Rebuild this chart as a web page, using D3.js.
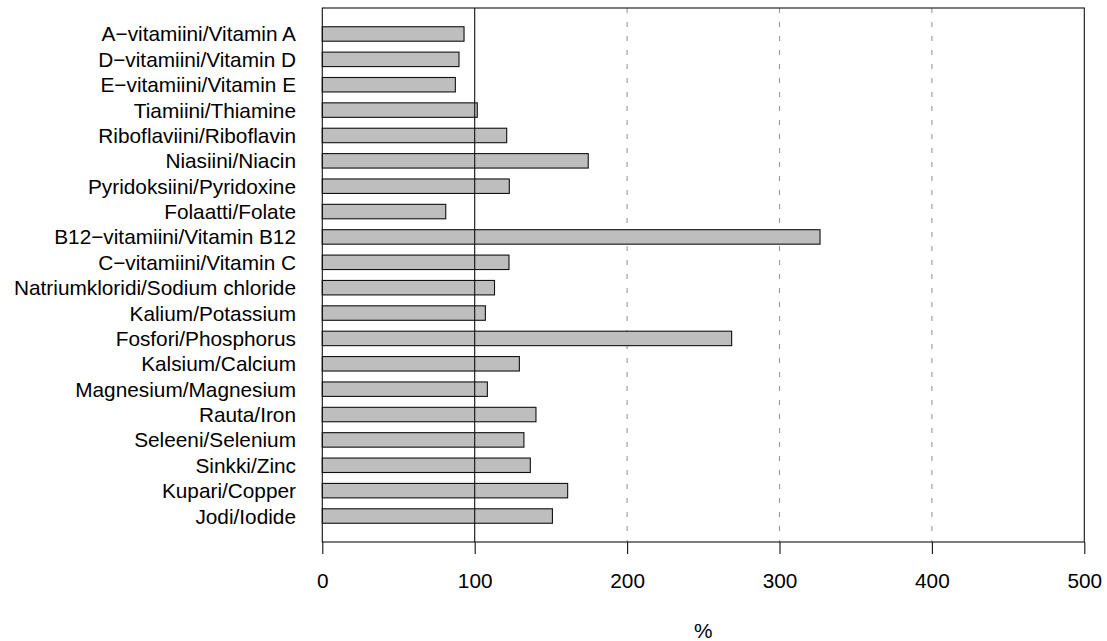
<!DOCTYPE html>
<html>
<head>
<meta charset="utf-8">
<script src="https://cdn.jsdelivr.net/npm/d3@7"></script>
<style>
html,body{margin:0;padding:0;background:#fff;}
svg{display:block;}
text{font-family:"Liberation Sans",Arial,Helvetica,sans-serif;fill:#000;}
</style>
</head>
<body>
<svg id="chart" width="1107" height="641"></svg>
<script>
const categories = [
  "A\u2212vitamiini/Vitamin A",
  "D\u2212vitamiini/Vitamin D",
  "E\u2212vitamiini/Vitamin E",
  "Tiamiini/Thiamine",
  "Riboflaviini/Riboflavin",
  "Niasiini/Niacin",
  "Pyridoksiini/Pyridoxine",
  "Folaatti/Folate",
  "B12\u2212vitamiini/Vitamin B12",
  "C\u2212vitamiini/Vitamin C",
  "Natriumkloridi/Sodium chloride",
  "Kalium/Potassium",
  "Fosfori/Phosphorus",
  "Kalsium/Calcium",
  "Magnesium/Magnesium",
  "Rauta/Iron",
  "Seleeni/Selenium",
  "Sinkki/Zinc",
  "Kupari/Copper",
  "Jodi/Iodide"
];
const values = [93, 89.7, 87.3, 101.7, 121, 174.5, 122.7, 81, 326.6, 122.5,
                113, 107, 268.6, 129.3, 108.3, 140.2, 132.3, 136.5, 161, 151];
const xTicks = [0, 100, 200, 300, 400, 500];
const dashedRefs = [200, 300, 400];
const solidRef = 100;
const xLabel = "%";

const svg = d3.select("#chart");
const L = 322.3, R = 1084.3, T = 8, B = 542;

const x = d3.scaleLinear().domain([0, 500]).range([L, R]);
const y = d3.scaleBand().domain(categories).range([T + 8.6, B - 8.6]).paddingInner(0.43).paddingOuter(0.4);

// dashed reference lines (behind bars)
svg.append("g").selectAll("line").data(dashedRefs).join("line")
  .attr("x1", d => x(d)).attr("x2", d => x(d))
  .attr("y1", T).attr("y2", B)
  .attr("stroke", "#999").attr("stroke-width", 1.1)
  .attr("stroke-dasharray", "5,9");

// bars
svg.append("g").selectAll("rect").data(values).join("rect")
  .attr("x", x(0))
  .attr("y", (d, i) => y(categories[i]))
  .attr("width", d => x(d) - x(0))
  .attr("height", y.bandwidth())
  .attr("fill", "#bebebe")
  .attr("stroke", "#111")
  .attr("stroke-width", 1.1);

// solid reference line at 100 (on top)
svg.append("line")
  .attr("x1", x(solidRef)).attr("x2", x(solidRef))
  .attr("y1", T).attr("y2", B)
  .attr("stroke", "#111").attr("stroke-width", 1.1);

// box
svg.append("rect")
  .attr("x", L).attr("y", T).attr("width", R - L).attr("height", B - T)
  .attr("fill", "none").attr("stroke", "#111").attr("stroke-width", 1.1);

// category labels
svg.append("g").selectAll("text").data(categories).join("text")
  .attr("x", 296)
  .attr("y", d => y(d) + y.bandwidth() / 2)
  .attr("dy", "0.36em")
  .attr("text-anchor", "end")
  .style("font-size", "20.8px")
  .text(d => d);

// x axis
const xAxis = d3.axisBottom(x).tickValues(xTicks).tickSize(12).tickPadding(19.5).tickFormat(d3.format("d"));
const ax = svg.append("g").attr("transform", `translate(0,${B})`).call(xAxis);
ax.select(".domain").remove();
ax.selectAll(".tick line").attr("stroke", "#111").attr("stroke-width", 1.1);
ax.selectAll(".tick text").style("font-size", "20.8px").attr("font-family", "Liberation Sans, Arial, sans-serif").attr("fill", "#000");

svg.append("text")
  .attr("x", (L + R) / 2)
  .attr("y", 638)
  .attr("text-anchor", "middle")
  .style("font-size", "20.8px")
  .text(xLabel);
</script>
</body>
</html>
